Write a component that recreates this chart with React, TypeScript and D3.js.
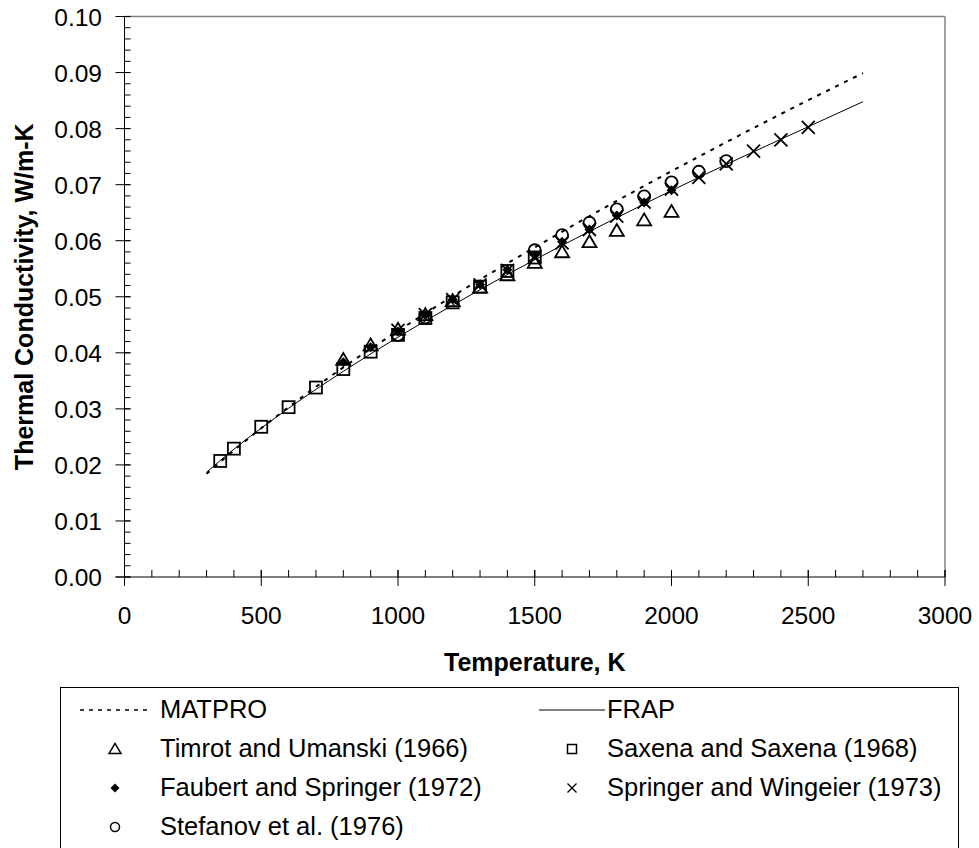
import React from "react";
import * as d3 from "d3";

// ---- data ----
const LINE_T = [300, 400, 600, 800, 1000, 1200, 1500, 1800, 2100, 2400, 2700];
const MATPRO_K = [0.0184, 0.0226, 0.0303, 0.0374, 0.0439, 0.0501, 0.0588, 0.0671, 0.075, 0.0826, 0.0899];
const FRAP_K = [0.0187, 0.0228, 0.0301, 0.0367, 0.0428, 0.0485, 0.0566, 0.0641, 0.0713, 0.0781, 0.0848];

const TIMROT_T = [800, 900, 1000, 1100, 1200, 1300, 1400, 1500, 1600, 1700, 1800, 1900, 2000];
const TIMROT_K = [0.0388, 0.0414, 0.0442, 0.0468, 0.0493, 0.0517, 0.0539, 0.0561, 0.058, 0.0598, 0.0618, 0.0637, 0.0652];

const SAXENA_T = [350, 400, 500, 600, 700, 800, 900, 1000, 1100, 1200, 1300, 1400, 1500];
const SAXENA_K = [0.0207, 0.0229, 0.0268, 0.0303, 0.0338, 0.0371, 0.0402, 0.0432, 0.0462, 0.049, 0.0518, 0.0546, 0.057];

const FAUBERT_T = [800, 900, 1000, 1100, 1200, 1300, 1400, 1500, 1600, 1700, 1800, 1900, 2000];
const FAUBERT_K = [0.0383, 0.041, 0.0438, 0.0467, 0.0495, 0.0522, 0.0548, 0.0574, 0.0598, 0.062, 0.0645, 0.0668, 0.069];

const SPRINGER_T = [1000, 1100, 1200, 1300, 1400, 1500, 1600, 1700, 1800, 1900, 2000, 2100, 2200, 2300, 2400, 2500];
const SPRINGER_K = [0.044, 0.0468, 0.0495, 0.0521, 0.0547, 0.0572, 0.0596, 0.062, 0.0644, 0.0669, 0.0692, 0.0713, 0.0737, 0.076, 0.078, 0.0802];

const STEFANOV_T = [1000, 1100, 1500, 1600, 1700, 1800, 1900, 2000, 2100, 2200];
const STEFANOV_K = [0.0432, 0.0463, 0.0583, 0.061, 0.0632, 0.0656, 0.0679, 0.0704, 0.0723, 0.0742];

const X_TICKS = [0, 500, 1000, 1500, 2000, 2500, 3000];
const Y_TICKS = [0, 0.01, 0.02, 0.03, 0.04, 0.05, 0.06, 0.07, 0.08, 0.09, 0.1];

const X_TITLE = "Temperature, K";
const Y_TITLE = "Thermal Conductivity, W/m-K";

const FONT = "'Liberation Sans', Arial, Helvetica, sans-serif";

type Shape = "triangle" | "square" | "diamond" | "x" | "circle";

function Marker({ shape, x, y, s, sw }: { shape: Shape; x: number; y: number; s: number; sw: number }) {
  const h = s / 2;
  if (shape === "square")
    return <rect x={x - h} y={y - h} width={s} height={s} fill="none" stroke="#000" strokeWidth={sw} />;
  if (shape === "circle") return <circle cx={x} cy={y} r={h} fill="none" stroke="#000" strokeWidth={sw} />;
  if (shape === "triangle") {
    const th = s * 0.85;
    return (
      <path
        d={`M${x},${y - th * 0.55}L${x + h},${y + th * 0.45}L${x - h},${y + th * 0.45}Z`}
        fill="none"
        stroke="#000"
        strokeWidth={sw}
        strokeLinejoin="miter"
      />
    );
  }
  if (shape === "diamond")
    return <path d={`M${x},${y - h}L${x + h},${y}L${x},${y + h}L${x - h},${y}Z`} fill="#000" />;
  return (
    <path d={`M${x - h},${y - h}L${x + h},${y + h}M${x - h},${y + h}L${x + h},${y - h}`} stroke="#000" strokeWidth={sw} />
  );
}

export default function App() {
  const W = 979;
  const H = 848;
  const xs = d3.scaleLinear().domain([0, 3000]).range([124.5, 945]);
  const ys = d3.scaleLinear().domain([0, 0.1]).range([577, 16.5]);

  const line = d3
    .line<[number, number]>()
    .x((d) => xs(d[0]))
    .y((d) => ys(d[1]))
    .curve(d3.curveMonotoneX);

  const matpro = line(LINE_T.map((t, i) => [t, MATPRO_K[i]] as [number, number])) || "";
  const frap = line(LINE_T.map((t, i) => [t, FRAP_K[i]] as [number, number])) || "";

  const xMinor = d3.range(0, 3001, 100);
  const yMinor = d3.range(0, 0.1001, 0.002);

  const series: { T: number[]; K: number[]; shape: Shape; s: number }[] = [
    { T: SAXENA_T, K: SAXENA_K, shape: "square", s: 12 },
    { T: TIMROT_T, K: TIMROT_K, shape: "triangle", s: 14 },
    { T: STEFANOV_T, K: STEFANOV_K, shape: "circle", s: 12 },
    { T: SPRINGER_T, K: SPRINGER_K, shape: "x", s: 13 },
    { T: FAUBERT_T, K: FAUBERT_K, shape: "diamond", s: 10 },
  ];

  const x0 = xs(0);
  const x1 = xs(3000);
  const y0 = ys(0);
  const y1 = ys(0.1);

  const legendRows = [718, 757, 796, 835];
  const leftMarkX = 115;
  const leftTextX = 160;
  const rightMarkX = 572;
  const rightTextX = 607;
  const LFS = 25.5;

  return (
    <svg
      width={W}
      height={H}
      style={{ position: "absolute", left: 0, top: 0, background: "#fff" }}
      fontFamily={FONT}
    >
      <rect x={0} y={0} width={W} height={H} fill="#fff" />
      {/* frame top/right (gray) */}
      <line x1={x0} x2={x1} y1={y1} y2={y1} stroke="#808080" strokeWidth={1.5} />
      <line x1={x1} x2={x1} y1={y1} y2={y0} stroke="#808080" strokeWidth={1.5} />

      {/* y axis */}
      {yMinor.map((v, i) => (
        <line key={"ym" + i} x1={x0} x2={x0 + 6} y1={ys(v)} y2={ys(v)} stroke="#000" strokeWidth={1} />
      ))}
      {Y_TICKS.map((v, i) => (
        <g key={"yt" + i}>
          <line x1={x0 - 9} x2={x0 + 6} y1={ys(v)} y2={ys(v)} stroke="#000" strokeWidth={1} />
          <text x={102} y={ys(v) + 9} textAnchor="end" fontSize={24.5} fill="#000">
            {v.toFixed(2)}
          </text>
        </g>
      ))}
      <line x1={x0} x2={x0} y1={y1} y2={y0 + 9} stroke="#000" strokeWidth={1} />

      {/* x axis */}
      {xMinor.map((v, i) => (
        <line key={"xm" + i} x1={xs(v)} x2={xs(v)} y1={y0 - 7} y2={y0} stroke="#000" strokeWidth={1} />
      ))}
      {X_TICKS.map((v, i) => (
        <g key={"xt" + i}>
          <line x1={xs(v)} x2={xs(v)} y1={y0 - 7} y2={y0 + 9} stroke="#000" strokeWidth={1} />
          <text x={xs(v)} y={624} textAnchor="middle" fontSize={24.5} fill="#000">
            {v}
          </text>
        </g>
      ))}
      <line x1={x0 - 9} x2={x1} y1={y0} y2={y0} stroke="#000" strokeWidth={1} />

      {/* titles */}
      <text x={(x0 + x1) / 2} y={671} textAnchor="middle" fontSize={25} fontWeight="bold" fill="#000">
        {X_TITLE}
      </text>
      <text
        transform={`translate(33,${(y0 + y1) / 2}) rotate(-90)`}
        textAnchor="middle"
        fontSize={25}
        fontWeight="bold"
        fill="#000"
      >
        {Y_TITLE}
      </text>

      {/* curves */}
      <path d={matpro} fill="none" stroke="#000" strokeWidth={2} strokeDasharray="4,6" />
      <path d={frap} fill="none" stroke="#000" strokeWidth={1} />

      {/* data points */}
      {series.map((s, si) =>
        s.T.map((t, i) => (
          <Marker key={si + "-" + i} shape={s.shape} x={xs(t)} y={ys(s.K[i])} s={s.s} sw={1.8} />
        ))
      )}

      {/* legend */}
      <rect x={60.5} y={687.5} width={898} height={200} fill="none" stroke="#000" strokeWidth={1} />
      <line x1={80} x2={152} y1={legendRows[0] - 8} y2={legendRows[0] - 8} stroke="#000" strokeWidth={1.5} strokeDasharray="4,5" />
      <text x={leftTextX} y={legendRows[0]} fontSize={LFS} fill="#000">MATPRO</text>
      <line x1={539} x2={605} y1={legendRows[0] - 8} y2={legendRows[0] - 8} stroke="#000" strokeWidth={1} />
      <text x={rightTextX} y={legendRows[0]} fontSize={LFS} fill="#000">FRAP</text>

      <Marker shape="triangle" x={leftMarkX} y={legendRows[1] - 8} s={12} sw={1.5} />
      <text x={leftTextX} y={legendRows[1]} fontSize={LFS} fill="#000">Timrot and Umanski (1966)</text>
      <Marker shape="square" x={rightMarkX} y={legendRows[1] - 8} s={9} sw={1.5} />
      <text x={rightTextX} y={legendRows[1]} fontSize={LFS} fill="#000">Saxena and Saxena (1968)</text>

      <Marker shape="diamond" x={leftMarkX} y={legendRows[2] - 8} s={9} sw={1.5} />
      <text x={leftTextX} y={legendRows[2]} fontSize={LFS} fill="#000">Faubert and Springer (1972)</text>
      <Marker shape="x" x={rightMarkX} y={legendRows[2] - 8} s={9} sw={1.3} />
      <text x={rightTextX} y={legendRows[2]} fontSize={LFS} fill="#000">Springer and Wingeier (1973)</text>

      <Marker shape="circle" x={leftMarkX} y={legendRows[3] - 8} s={9} sw={1.5} />
      <text x={leftTextX} y={legendRows[3]} fontSize={LFS} fill="#000">Stefanov et al. (1976)</text>
    </svg>
  );
}
